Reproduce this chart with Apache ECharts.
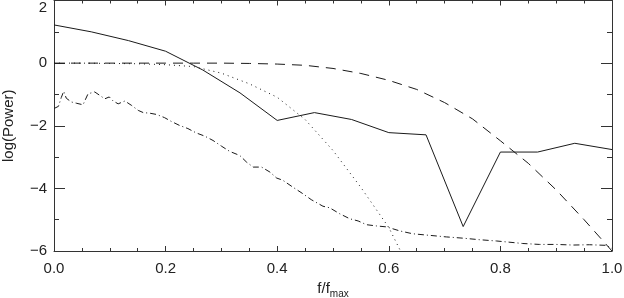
<!DOCTYPE html>
<html>
<head>
<meta charset="utf-8">
<script src="https://cdn.jsdelivr.net/npm/echarts@6/dist/echarts.min.js"></script>
<style>
html,body{margin:0;padding:0;background:#fff;}
#chart{width:624px;height:298px;}
</style>
</head>
<body>
<div id="chart"></div>
<script>
// ---- data ----
const xTicks = [0.0, 0.2, 0.4, 0.6, 0.8, 1.0];
const yTicks = [-6, -4, -2, 0, 2];

const solidF = [0, 0.0667, 0.1333, 0.2, 0.2667, 0.3333, 0.4, 0.4667, 0.5333, 0.6, 0.6667, 0.7333, 0.8, 0.8667, 0.9333, 1.0];
const solidV = [1.22, 1.0, 0.72, 0.38, -0.22, -0.95, -1.83, -1.58, -1.80, -2.22, -2.29, -5.22, -2.84, -2.84, -2.56, -2.76];

const dashF = [0, 0.05, 0.1, 0.15, 0.2, 0.25, 0.3, 0.35, 0.4, 0.45, 0.5, 0.55, 0.6, 0.65, 0.7, 0.75, 0.8, 0.85, 0.9, 0.95, 1.0];
const dashV = [0, 0, 0, 0, 0, 0, 0, -0.01, -0.03, -0.07, -0.17, -0.33, -0.55, -0.84, -1.26, -1.78, -2.48, -3.2, -4.05, -5.0, -6.0];

const dotF = [0, 0.05, 0.1, 0.15, 0.2, 0.25, 0.3, 0.35, 0.4, 0.45, 0.5, 0.55, 0.6, 0.621];
const dotV = [0, 0, -0.01, -0.02, -0.05, -0.11, -0.32, -0.66, -1.09, -1.8, -2.79, -3.97, -5.25, -6.0];

const ddF = [0, 0.008, 0.013, 0.0174, 0.022, 0.031, 0.04, 0.052, 0.061, 0.073, 0.082, 0.091, 0.099, 0.106, 0.115, 0.127, 0.139, 0.151, 0.16, 0.172, 0.184, 0.198, 0.21, 0.225, 0.24, 0.255, 0.27, 0.285, 0.30, 0.315, 0.333, 0.345, 0.357, 0.372, 0.387, 0.399, 0.41, 0.428, 0.446, 0.461, 0.482, 0.494, 0.512, 0.53, 0.545, 0.56, 0.578, 0.596, 0.62, 0.643, 0.673, 0.703, 0.733, 0.763, 0.793, 0.811, 0.84, 0.87, 0.9, 0.93, 0.96, 0.99, 1.0];
const ddV = [-1.45, -1.38, -1.10, -0.90, -1.12, -1.24, -1.28, -1.33, -0.98, -0.92, -1.03, -1.14, -1.08, -1.21, -1.30, -1.21, -1.35, -1.51, -1.58, -1.60, -1.64, -1.74, -1.86, -1.99, -2.09, -2.23, -2.33, -2.47, -2.65, -2.82, -2.95, -3.16, -3.32, -3.32, -3.48, -3.67, -3.74, -3.96, -4.17, -4.36, -4.57, -4.62, -4.81, -4.97, -5.04, -5.16, -5.20, -5.23, -5.36, -5.45, -5.50, -5.55, -5.59, -5.64, -5.68, -5.71, -5.76, -5.79, -5.79, -5.81, -5.80, -5.82, -5.92];

const xLabel = 'f/f';
const xLabelSub = 'max';
const yLabel = 'log(Power)';

// ---- chart ----
const zip = (a, b) => a.map((v, i) => [v, b[i]]);
const FONT = 'Liberation Sans';
const LINE = '#1a1a1a';
const AXIS = '#333';

function lineSeries(f, v, dash) {
  return {
    type: 'line', data: zip(f, v), showSymbol: false, symbol: 'none',
    xAxisIndex: 0, yAxisIndex: 0, clip: true, silent: true,
    lineStyle: { color: LINE, width: 1, type: dash }
  };
}

const chart = echarts.init(document.getElementById('chart'), null, { renderer: 'canvas' });
const xCommon = {
  type: 'value', min: xTicks[0], max: xTicks[xTicks.length - 1], interval: 0.2,
  splitLine: { show: false },
  axisLine: { show: true, onZero: false, lineStyle: { color: AXIS, width: 1 } },
  axisTick: { show: true, inside: true, length: 5, lineStyle: { color: AXIS } },
  minorTick: { show: true, splitNumber: 4, length: 3, lineStyle: { color: AXIS } },
  minorSplitLine: { show: false }
};
const yCommon = {
  type: 'value', min: yTicks[0], max: yTicks[yTicks.length - 1], interval: 2,
  splitLine: { show: false },
  axisLine: { show: true, onZero: false, lineStyle: { color: AXIS, width: 1 } },
  axisTick: { show: true, inside: true, length: 11, lineStyle: { color: AXIS } },
  minorTick: { show: true, splitNumber: 2, length: 5, lineStyle: { color: AXIS } },
  minorSplitLine: { show: false }
};

chart.setOption({
  animation: false,
  backgroundColor: '#fff',
  grid: { left: 54, right: 12, top: 0.5, bottom: 47, containLabel: false, outerBoundsMode: 'none' },
  xAxis: [
    Object.assign({}, xCommon, {
      position: 'bottom',
      axisLabel: { show: true, margin: 10, color: '#222', fontFamily: FONT, fontSize: 15,
        formatter: v => v.toFixed(1) },
      name: '{a|' + xLabel + '}{b|' + xLabelSub + '}',
      nameLocation: 'middle', nameGap: 30,
      nameTextStyle: {
        color: '#222', fontFamily: FONT,
        rich: {
          a: { fontSize: 15, fontFamily: FONT, color: '#222', lineHeight: 15, verticalAlign: 'top' },
          b: { fontSize: 10, fontFamily: FONT, color: '#222', lineHeight: 27 }
        }
      }
    }),
    Object.assign({}, xCommon, { position: 'top', axisLabel: { show: false } })
  ],
  yAxis: [
    Object.assign({}, yCommon, {
      position: 'left',
      axisLabel: { show: true, margin: 7, color: '#222', fontFamily: FONT, fontSize: 15,
        verticalAlignMaxLabel: 'top',
        formatter: v => (v < 0 ? '\u2212' + Math.abs(v) : String(v)) },
      name: yLabel, nameLocation: 'middle', nameGap: 38, nameRotate: 90,
      nameTextStyle: { color: '#222', fontFamily: FONT, fontSize: 15 }
    }),
    Object.assign({}, yCommon, { position: 'right', axisLabel: { show: false } })
  ],
  series: [
    lineSeries(solidF, solidV, 'solid'),
    lineSeries(dashF, dashV, [10, 7]),
    lineSeries(dotF, dotV, [1, 4]),
    lineSeries(ddF, ddV, [6, 3, 1, 3])
  ]
});
</script>
</body>
</html>
